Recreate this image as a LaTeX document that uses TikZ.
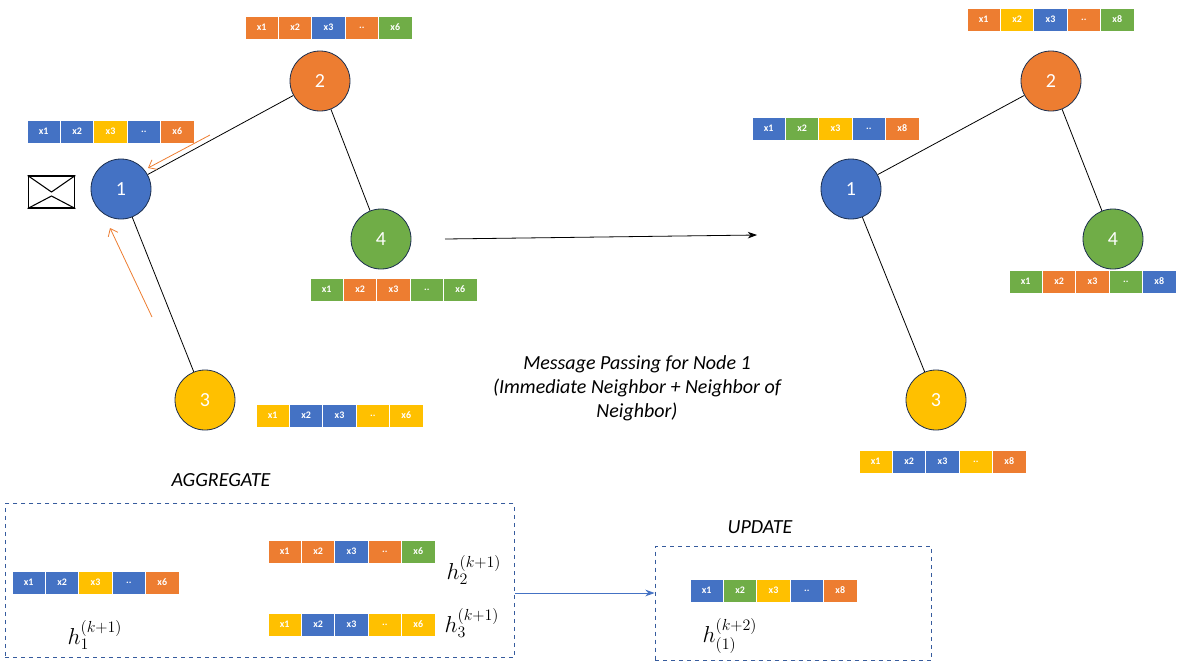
\documentclass[tikz,border=0pt]{standalone}
\usepackage{fontspec}
\setmainfont{Carlito}
\usetikzlibrary{arrows.meta}
\definecolor{cB}{HTML}{4472C4}
\definecolor{cO}{HTML}{ED7D31}
\definecolor{cY}{HTML}{FFC000}
\definecolor{cG}{HTML}{70AD47}
\newcommand\featbar[4]{% name, x, y, list color/label
  \foreach \c/\t [count=\i from 0] in {#4}{
    \node[cell,fill=\c] (#1-\i) at (#2+16.7+\i*33.4,#3+11.5) {\t};
  }}
\begin{document}
\begin{tikzpicture}[x=0.75pt,y=-0.75pt,
  cell/.style={draw=white,line width=0.6pt,minimum width=25pt,minimum height=17.2pt,inner sep=0pt,text=white,font=\fontsize{7.5}{8}\selectfont\bfseries},
  gnode/.style={circle,draw=black!60!cB,line width=0.6pt,minimum size=45pt,text=white,font=\fontsize{15}{16}\selectfont},
  edge/.style={black,line width=0.6pt},
  msg/.style={cO,line width=0.6pt,-{Straight Barb[length=5pt,width=8pt]}},
  dbox/.style={draw=cB!80!black,dashed,line width=0.6pt},
  lbl/.style={font=\fontsize{15}{18}\selectfont\itshape}]
\useasboundingbox (0,0) rectangle (1186,669);
% left graph
\node[gnode,fill=cB] (l1) at (121,189) {1};
\node[gnode,fill=cO] (l2) at (320,81) {2};
\node[gnode,fill=cG] (l4) at (381,239) {4};
\node[gnode,fill=cY] (l3) at (205,400) {3};
\draw[edge] (l1) -- (l2); \draw[edge] (l2) -- (l4); \draw[edge] (l1) -- (l3);
\featbar{bl1}{27}{120}{cB/x1,cB/x2,cY/x3,cB/..,cO/x6}
\featbar{bl2}{245}{16}{cO/x1,cO/x2,cB/x3,cO/..,cG/x6}
\featbar{bl4}{310}{278}{cG/x1,cO/x2,cO/x3,cG/..,cG/x6}
\featbar{bl3}{256}{404}{cY/x1,cB/x2,cB/x3,cY/..,cY/x6}
\coordinate (m2s) at (210,135); \coordinate (m2e) at (148,168);
\coordinate (m3s) at (152,317); \coordinate (m3e) at (110,228);
\draw[msg] (m2s) -- (m2e);
\draw[msg] (m3s) -- (m3e);
% envelope
\node[draw,line width=0.8pt,minimum width=35pt,minimum height=24pt,inner sep=0pt] (env) at (51.5,192) {};
\draw[line width=0.8pt] (env.north west) -- (env.center) -- (env.north east);
\draw[line width=0.8pt] (env.south west) -- ([yshift=-3pt]env.center) -- (env.south east);
% main arrow
\coordinate (a1) at (445,239); \coordinate (a2) at (757,235);
\draw[line width=0.6pt,-{Stealth[length=7pt,width=5pt]}] (a1) -- (a2);
% right graph
\node[gnode,fill=cB] (r1) at (851,189) {1};
\node[gnode,fill=cO] (r2) at (1051,81) {2};
\node[gnode,fill=cG] (r4) at (1113,239) {4};
\node[gnode,fill=cY] (r3) at (936,400) {3};
\draw[edge] (r1) -- (r2); \draw[edge] (r2) -- (r4); \draw[edge] (r1) -- (r3);
\featbar{br1}{752}{117}{cB/x1,cG/x2,cY/x3,cB/..,cO/x8}
\featbar{br2}{967}{8}{cO/x1,cY/x2,cB/x3,cO/..,cG/x8}
\featbar{br4}{1009}{270}{cG/x1,cO/x2,cO/x3,cG/..,cB/x8}
\featbar{br3}{859}{450}{cY/x1,cB/x2,cB/x3,cY/..,cO/x8}
% caption
\node[lbl,align=center] (cap) at (637,388) {Message Passing for Node 1\\(Immediate Neighbor + Neighbor of\\Neighbor)};
% aggregate
\node[lbl] (agg) at (221,480) {AGGREGATE};
\node[dbox,minimum width=382pt,minimum height=115pt,inner sep=0pt] (aggbox) at (260,580.5) {};
\featbar{bb1}{12}{571}{cB/x1,cB/x2,cY/x3,cB/..,cO/x6}
\featbar{bb2}{268}{540}{cO/x1,cO/x2,cB/x3,cO/..,cG/x6}
\featbar{bb3}{268}{613}{cY/x1,cB/x2,cB/x3,cY/..,cY/x6}
\node[font=\fontsize{17}{18}\selectfont] (h2) at (474,570) {$h_2^{(k+1)}$};
\node[font=\fontsize{17}{18}\selectfont] (h3) at (472,623) {$h_3^{(k+1)}$};
\node[font=\fontsize{17}{18}\selectfont] (h1) at (95,635) {$h_1^{(k+1)}$};
% update
\node[lbl] (upd) at (760,527) {UPDATE};
\node[dbox,minimum width=207pt,minimum height=86pt,inner sep=0pt] (updbox) at (793,603.5) {};
\featbar{bu}{690}{579}{cB/x1,cG/x2,cY/x3,cB/..,cO/x8}
\node[font=\fontsize{17}{18}\selectfont] (h4) at (730,636) {$h_{(1)}^{(k+2)}$};
\draw[cB,line width=0.6pt,-{Stealth[length=7pt,width=5pt]}] (aggbox.east |- 0,593) -- (updbox.west |- 0,593);
\end{tikzpicture}
\end{document}
